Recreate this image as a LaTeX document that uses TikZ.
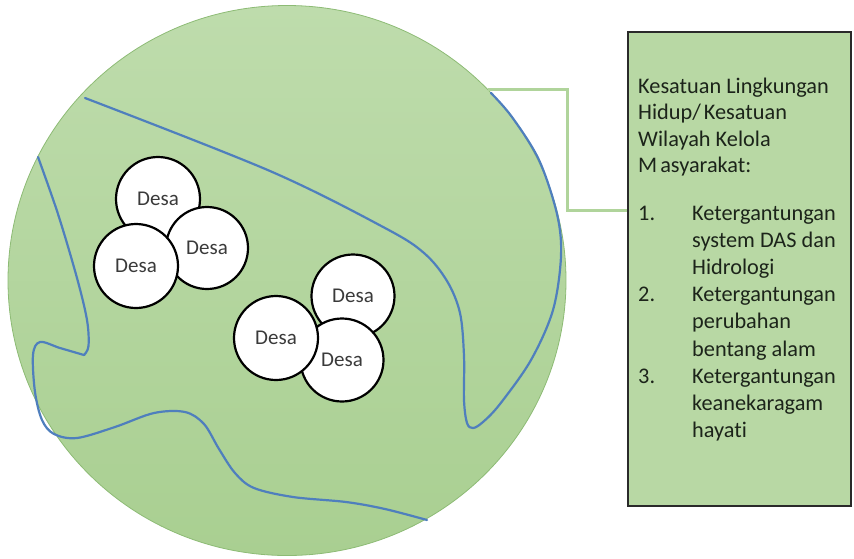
\documentclass[tikz,border=0pt]{standalone}
\usepackage{fontspec}
\setmainfont{Carlito}[Ligatures=NoCommon]
\usetikzlibrary{shapes.geometric}
\definecolor{landtop}{HTML}{BEDCAC}
\definecolor{landbot}{HTML}{A9CF91}
\definecolor{landedge}{HTML}{8DBB75}
\definecolor{riverblue}{HTML}{4F7FBD}
\definecolor{conngreen}{HTML}{B0D49B}
\definecolor{boxfill}{HTML}{B8D8A4}
\definecolor{boxedge}{HTML}{2A2A2A}
\definecolor{desatext}{HTML}{3A3A3A}
\definecolor{infotext}{HTML}{1C241A}
\tikzset{
  land/.style={ellipse, draw=landedge, line width=0.8pt, top color=landtop, bottom color=landbot, inner sep=0pt},
  river/.style={draw=riverblue, line width=2.2pt, line cap=round, line join=round},
  desa/.style={circle, draw=black, line width=2.2pt, fill=white, text=desatext, inner sep=0pt, font=\fontsize{21}{25}\selectfont},
  infobox/.style={rectangle, draw=boxedge, line width=1.8pt, fill=boxfill, inner sep=0pt},
  conn/.style={draw=conngreen, line width=3pt},
  infoline/.style={anchor=base west, inner sep=0pt, text=infotext, font=\fontsize{22.3}{26}\selectfont}
}
\begin{document}
\begin{tikzpicture}[x=1pt,y=-1pt]
\useasboundingbox (0,0) rectangle (854,558);
% land region
\node[land, minimum width=558pt, minimum height=550pt] (landarea) at (287,280.5) {};
% rivers
\draw[river] plot[smooth, tension=0.55] coordinates {(85,98) (270,171) (385,228) (424,253) (447,281) (460,313) (464,356) (464,400) (467,423) (473,428) (483,422) (500,404) (531,360) (553,310) (561,256) (557,214) (539,160) (512,117) (491,93)};
\draw[river] plot[smooth, tension=0.55] coordinates {(38,157) (58,214) (77,278) (87,320) (88.5,346) (84,355)};
\draw[river] plot[smooth, tension=0.55] coordinates {(84,355) (60,348) (40,342) (33,355) (35,392) (42,420) (54,434) (77,438) (115,427) (154,413) (185,412) (204,424) (219,449) (235,473) (254,488) (293,497) (346,502) (385,509) (427,520)};
% villages
\node[desa, minimum size=84pt] (desaA) at (158,199) {Desa};
\node[desa, minimum size=82pt] (desaB) at (207,248) {Desa};
\node[desa, minimum size=84pt] (desaC) at (136,266) {Desa};
\node[desa, minimum size=83pt] (desaD) at (353,296) {Desa};
\node[desa, minimum size=83pt] (desaF) at (342,360) {Desa};
\node[desa, minimum size=84pt] (desaE) at (276,338) {Desa};
% info box
\node[infobox, minimum width=223pt, minimum height=474pt] (box) at (739.5,269) {};
\coordinate (c0) at (488,89);
\coordinate (c1) at (567,210);
\draw[conn] (c0) -| (c1) -- (c1 -| box.west);
% info text
\node[infoline] (h1) at (638,93) {Kesatuan Lingkungan};
\node[infoline] (h2) at (638,119.5) {Hidup/\kern3pt Kesatuan};
\node[infoline] (h3) at (638,146) {Wilayah Kelola};
\node[infoline] (h4) at (638,172.5) {M\kern3pt asyarakat:};
\node[infoline] (n1) at (638,220) {1.};
\node[infoline] (i1a) at (692,220) {Ketergantungan};
\node[infoline] (i1b) at (692,247) {system DAS dan};
\node[infoline] (i1c) at (692,274) {Hidrologi};
\node[infoline] (n2) at (638,301) {2.};
\node[infoline] (i2a) at (692,301) {Ketergantungan};
\node[infoline] (i2b) at (692,328) {perubahan};
\node[infoline] (i2c) at (692,356) {bentang alam};
\node[infoline] (n3) at (638,383) {3.};
\node[infoline] (i3a) at (692,383) {Ketergantungan};
\node[infoline] (i3b) at (692,410) {keanekaragam};
\node[infoline] (i3c) at (692,437) {hayati};
\end{tikzpicture}
\end{document}
